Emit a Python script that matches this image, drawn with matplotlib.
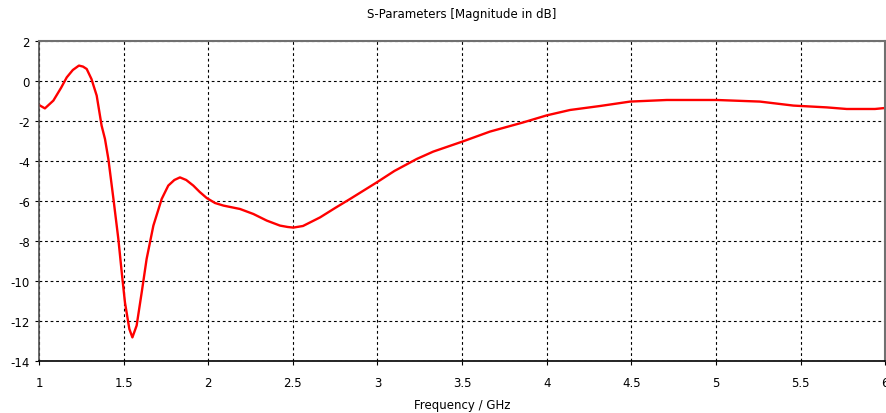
import matplotlib

matplotlib.use("Agg")
import matplotlib.pyplot as plt

# S11 magnitude
freq_ghz = [
    1.0, 1.035, 1.085, 1.13, 1.164, 1.2, 1.236, 1.26, 1.282, 1.31, 1.341,
    1.37, 1.39, 1.41, 1.44, 1.469, 1.489, 1.508, 1.534, 1.552, 1.577,
    1.607, 1.636, 1.676, 1.725, 1.764, 1.8, 1.833, 1.87, 1.912, 1.95,
    1.991, 2.04, 2.09, 2.188, 2.267, 2.346, 2.424, 2.47, 2.503, 2.56,
    2.661, 2.75, 2.838, 2.996, 3.1, 3.232, 3.33, 3.502, 3.665, 3.862,
    4.0, 4.138, 4.316, 4.493, 4.71, 5.005, 5.26, 5.458, 5.655, 5.773,
    5.94, 6.0,
]
s11_db = [
    -1.2, -1.37, -0.98, -0.35, 0.18, 0.55, 0.77, 0.72, 0.6, 0.1, -0.73,
    -2.23, -2.9, -3.9, -5.9, -7.9, -9.57, -11.07, -12.4, -12.82, -12.23,
    -10.57, -8.9, -7.23, -5.9, -5.23, -4.95, -4.82, -4.95, -5.23, -5.55,
    -5.85, -6.1, -6.23, -6.4, -6.65, -6.98, -7.23, -7.3, -7.33, -7.25,
    -6.82, -6.35, -5.9, -5.07, -4.5, -3.9, -3.53, -3.03, -2.53, -2.07,
    -1.72, -1.45, -1.25, -1.03, -0.95, -0.95, -1.03, -1.23, -1.32, -1.4,
    -1.4, -1.35,
]

x_ticks = [1, 1.5, 2, 2.5, 3, 3.5, 4, 4.5, 5, 5.5, 6]
x_tick_labels = ["1", "1.5", "2", "2.5", "3", "3.5", "4", "4.5", "5", "5.5", "6"]
y_ticks = [2, 0, -2, -4, -6, -8, -10, -12, -14]

plt.rcParams["font.family"] = ["DejaVu Sans"]
plt.rcParams["axes.unicode_minus"] = False  # plain hyphen like the source tool

fig = plt.figure(figsize=(8.86, 4.14), dpi=100)
ax = fig.add_axes([0.044, 0.1256, 0.955, 0.773])

ax.plot(freq_ghz, s11_db, color="#ff0000", linewidth=1.7, solid_joinstyle="round")

ax.set_xlim(1, 6)
ax.set_ylim(-14, 2)
ax.set_xticks(x_ticks)
ax.set_xticklabels(x_tick_labels)
ax.set_yticks(y_ticks)
ax.tick_params(direction="out", length=3, width=0.8, labelsize=8.5, colors="black")
ax.tick_params(axis="x", pad=8)

ax.grid(True, color="black", linestyle=(0, (2.5, 2.5)), linewidth=0.8)
for side in ("top", "right"):
    ax.spines[side].set_color("#707070")
    ax.spines[side].set_linewidth(1.5)
for side in ("bottom", "left"):
    ax.spines[side].set_color("black")
    ax.spines[side].set_linewidth(1.2)
ax.spines["left"].set_color("#505050")

ax.set_title("S-Parameters [Magnitude in dB]", fontsize=8.5, pad=17)
ax.set_xlabel("Frequency / GHz", fontsize=8.5, labelpad=6)

fig.savefig("out.png", dpi=100)
plt.close(fig)
